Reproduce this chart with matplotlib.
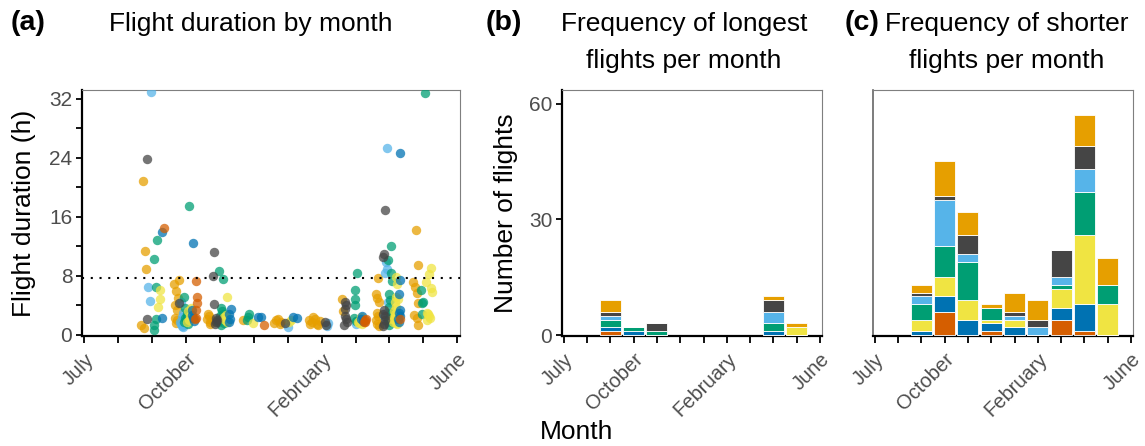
import matplotlib
matplotlib.use("Agg")
import matplotlib.pyplot as plt
import numpy as np

plt.rcParams['font.family'] = ['Liberation Sans', 'DejaVu Sans']

# ---------------- data ----------------
months = list(range(1, 13))            # 1 = July ... 12 = June
month_labels = {1: "July", 4: "October", 8: "February", 12: "June"}
birds = ["vermillion", "blue", "yellow", "green", "skyblue", "gray", "orange"]
bird_colors = ["#D55E00", "#0072B2", "#F0E442", "#009E73", "#56B4E9", "#454545", "#E69F00"]
threshold_h = 7.7

# panel (a): flight position (month + jitter) and duration (h), per bird
a_x_vermillion = [3.34, 4.30, 4.32, 4.33, 4.28, 4.30, 4.26, 6.29, 9.29, 9.25, 9.32, 9.27, 10.30]
a_y_vermillion = [14.5, 7.3, 5.2, 4.3, 3.4, 2.3, 2.1, 1.4, 2.0, 1.8, 2.1, 1.7, 2.1]
a_x_blue = [3.29, 3.30, 4.19, 4.18, 4.20, 4.17, 4.22, 5.32, 5.28, 5.30, 5.27, 6.11, 6.21,
            7.15, 7.27, 9.19, 9.15, 9.21, 10.30, 10.32, 10.28, 10.30, 10.27, 10.31, 10.26, 10.29]
a_y_blue = [13.9, 2.3, 12.4, 2.7, 2.3, 3.4, 1.9, 3.5, 2.9, 2.2, 1.7, 2.4, 2.4,
            2.4, 2.3, 2.5, 2.1, 1.9, 24.6, 7.5, 5.6, 3.4, 3.0, 2.6, 2.2, 1.8]
a_x_yellow = [3.24, 3.22, 3.16, 4.05, 4.10, 4.12, 4.02, 4.15, 5.21, 5.16, 5.12, 5.20, 5.18,
              5.97, 7.10, 7.05, 9.13, 9.10, 9.17, 9.08, 9.20,
              10.20, 10.22, 10.18, 10.24, 10.15, 10.20, 10.12, 10.22, 10.17, 10.19, 10.14,
              10.25, 10.10, 10.20, 10.23, 10.16, 10.08, 10.21,
              11.22, 11.18, 11.22, 11.24, 11.15, 11.18, 11.12, 11.20, 11.10, 11.08]
a_y_yellow = [6.1, 4.9, 3.75, 3.2, 2.0, 2.6, 1.8, 3.6, 5.2, 2.0, 2.4, 1.7, 2.7,
              1.6, 2.0, 1.7, 2.0, 1.6, 2.4, 1.8, 1.5,
              7.9, 6.9, 5.2, 4.8, 4.4, 3.8, 3.3, 3.0, 2.8, 2.5, 2.2,
              2.0, 1.8, 1.6, 1.5, 2.4, 2.1, 1.9,
              9.1, 8.3, 6.3, 5.8, 2.9, 2.5, 2.0, 2.3, 3.0, 7.2]
a_x_green = [3.14, 3.06, 3.11, 3.10, 3.05, 3.04,
             4.08, 3.95, 4.02, 3.97, 4.00, 3.93, 4.05, 3.98, 4.04,
             4.98, 5.09, 5.03, 5.06, 5.11, 5.00, 4.95, 5.08, 5.02, 5.05, 4.99,
             5.80, 5.87, 5.84,
             9.04, 8.97, 8.99, 8.97, 8.95, 9.00,
             10.03, 9.96, 10.03, 10.06, 10.00, 10.02, 9.98, 10.05, 10.01, 9.97, 10.04, 10.00, 9.99,
             11.06, 10.93, 10.99, 10.96, 10.95]
a_y_green = [12.8, 10.3, 6.5, 2.1, 1.36, 0.7,
             17.5, 5.1, 2.9, 2.3, 2.0, 1.8, 1.5, 3.6, 2.5,
             8.7, 7.6, 3.7, 2.3, 1.6, 2.0, 1.8, 2.8, 1.4, 3.2, 2.5,
             2.0, 2.9, 2.4,
             8.4, 6.1, 4.8, 4.1, 2.3, 1.9,
             12.0, 10.2, 8.4, 7.3, 5.6, 4.7, 3.8, 3.0, 2.5, 2.0, 1.7, 1.4, 2.2,
             32.8, 6.1, 4.4, 4.3, 2.9]
a_x_skyblue = [2.98, 2.89, 2.95,
               3.85, 3.90, 3.88, 3.92, 3.83, 3.95, 3.90, 3.87, 3.93, 3.96, 3.86, 3.91,
               5.15, 5.22, 7.00, 8.20, 8.17, 9.05, 9.00,
               9.93, 9.90, 9.88, 9.92, 9.95, 9.90, 9.98, 9.93, 9.85]
a_y_skyblue = [32.9, 6.5, 4.6,
               4.5, 3.0, 2.4, 2.0, 1.8, 1.6, 1.4, 1.2, 2.2, 1.9, 1.5, 1.1,
               2.5, 1.8, 1.1, 1.6, 1.2, 1.9, 1.5,
               25.3, 9.9, 8.4, 9.0, 4.5, 3.0, 2.2, 1.8, 2.6]
a_x_gray = [2.86, 2.85, 3.79,
            4.81, 4.78, 4.81, 4.87, 4.87, 4.84, 4.90,
            6.93, 8.13, 8.10,
            8.70, 8.72, 8.69, 8.65, 8.74, 8.68, 8.71,
            9.88, 9.83, 9.80, 9.85, 9.82, 9.86, 9.84, 9.80, 9.87]
a_y_gray = [23.9, 2.17, 4.3,
            11.2, 8.0, 4.2, 2.3, 1.8, 1.5, 2.0,
            1.6, 1.4, 1.8,
            4.5, 4.0, 3.5, 1.4, 1.8, 2.6, 2.2,
            16.9, 10.9, 10.5, 3.4, 2.8, 2.0, 1.5, 1.2, 2.5]
a_x_orange = [2.72, 2.78, 2.81, 2.67, 2.75,
              3.78, 3.65, 3.71, 3.75, 3.68, 3.72, 3.66, 3.74, 3.70,
              4.67, 4.72, 4.63, 4.70, 4.65, 4.75, 5.68,
              6.65, 6.72, 6.80, 6.60, 6.76,
              7.62, 7.70, 7.80, 7.85, 7.90, 7.75, 7.66, 7.95,
              8.60, 8.62,
              9.65, 9.60, 9.63, 9.68, 9.62, 9.66, 9.60, 9.64, 9.70,
              10.78, 10.84, 10.70, 10.75, 10.80, 10.83, 10.72, 10.80, 10.85]
a_y_orange = [20.9, 11.4, 8.95, 1.3, 0.9,
              7.46, 6.9, 6.0, 5.0, 4.1, 3.4, 2.3, 2.0, 1.6,
              2.5, 1.8, 2.2, 1.5, 2.8, 2.0, 2.0,
              2.0, 2.1, 1.8, 1.6, 1.5,
              2.0, 1.7, 2.2, 1.5, 1.3, 2.4, 1.5, 1.9,
              4.9, 3.3,
              7.7, 5.5, 5.0, 4.4, 3.0, 2.5, 2.0, 1.5, 1.2,
              14.2, 9.5, 7.2, 6.5, 5.7, 4.3, 2.7, 2.3, 1.4]

# panel (b): counts of longest flights per month and bird (stack order = birds)
b_months = [3, 4, 5, 10, 11]
b_vermillion = [1, 0, 0, 0, 0]
b_blue = [1, 1, 0, 1, 0]
b_yellow = [0, 0, 0, 0, 2]
b_green = [2, 1, 1, 2, 0]
b_skyblue = [1, 0, 0, 3, 0]
b_gray = [1, 0, 2, 3, 0]
b_orange = [3, 0, 0, 1, 1]

# panel (c): counts of shorter flights per month and bird
c_months = [3, 4, 5, 6, 7, 8, 9, 10, 11]
c_vermillion = [0, 6, 0, 1, 0, 0, 4, 1, 0]
c_blue = [1, 4, 4, 2, 2, 0, 3, 7, 0]
c_yellow = [3, 5, 5, 1, 2, 0, 5, 18, 8]
c_green = [4, 8, 10, 3, 0, 0, 1, 11, 5]
c_skyblue = [2, 12, 2, 0, 1, 2, 2, 6, 0]
c_gray = [1, 1, 5, 0, 1, 2, 7, 6, 0]
c_orange = [2, 9, 6, 1, 5, 5, 0, 8, 7]

# ---------------- figure ----------------
W, H = 1145, 446
fig = plt.figure(figsize=(W / 100, H / 100), dpi=100)

def ax_rect(x0, x1, y0, y1):
    return [x0 / W, 1 - y1 / H, (x1 - x0) / W, (y1 - y0) / H]

ax_a = fig.add_axes(ax_rect(82, 460, 90, 336))
ax_b = fig.add_axes(ax_rect(562, 822, 90, 336))
ax_c = fig.add_axes(ax_rect(873, 1133, 90, 336))

tick_color = "#4D4D4D"
ytick_fs = 15
xtick_fs = 14.5

def style_axes(ax, yticks=True):
    for side in ["top", "right"]:
        ax.spines[side].set_color("#7F7F7F")
        ax.spines[side].set_linewidth(0.8)
    ax.spines["bottom"].set_color("black")
    ax.spines["bottom"].set_linewidth(1.6)
    if yticks:
        ax.spines["left"].set_color("black")
        ax.spines["left"].set_linewidth(1.6)
    else:
        ax.spines["left"].set_color("#666666")
        ax.spines["left"].set_linewidth(1.2)
    ax.set_xlim(0.93, 12.08)
    ax.set_xticks(months)
    ax.set_xticklabels([month_labels.get(m, "") for m in months], rotation=45,
                       ha="right", va="top", rotation_mode="anchor",
                       color=tick_color, fontsize=xtick_fs)
    ax.tick_params(axis="x", length=5, width=1.3, color="black", pad=5)
    ax.tick_params(axis="y", length=4, width=1.3, color="black", labelcolor=tick_color,
                   labelsize=ytick_fs, pad=3)
    if not yticks:
        ax.tick_params(axis="y", left=False, labelleft=False)

# panel (a)
a_x = [a_x_vermillion, a_x_blue, a_x_yellow, a_x_green, a_x_skyblue, a_x_gray, a_x_orange]
a_y = [a_y_vermillion, a_y_blue, a_y_yellow, a_y_green, a_y_skyblue, a_y_gray, a_y_orange]
order = [6, 4, 3, 2, 5, 1, 0]
for i in order:
    ax_a.scatter(a_x[i], a_y[i], s=46, color=bird_colors[i], alpha=0.74, linewidths=0, zorder=3)
ax_a.axhline(threshold_h, color="black", linestyle=(0, (1, 3.2)), linewidth=1.5, zorder=4)
ax_a.set_ylim(-0.15, 33.2)
ax_a.set_yticks([0, 4, 8, 12, 16, 20, 24, 28, 32])
ax_a.set_yticklabels(["0", "", "8", "", "16", "", "24", "", "32"])
style_axes(ax_a)

# panels (b) and (c)
def stacked(ax, xs, series):
    bottom = np.zeros(len(xs))
    for vals, col in zip(series, bird_colors):
        v = np.array(vals, dtype=float)
        ax.bar(xs, v, bottom=bottom, width=0.9, color=col, edgecolor="white",
               linewidth=0.6, zorder=3)
        bottom += v

stacked(ax_b, b_months, [b_vermillion, b_blue, b_yellow, b_green, b_skyblue, b_gray, b_orange])
stacked(ax_c, c_months, [c_vermillion, c_blue, c_yellow, c_green, c_skyblue, c_gray, c_orange])
for ax in (ax_b, ax_c):
    ax.set_ylim(-0.25, 63.5)
    ax.set_yticks([0, 30, 60])
style_axes(ax_b)
style_axes(ax_c, yticks=False)

# texts
title_fs = 19
lab_fs = 19
tag_fs = 20.5
fig.text(11 / W, 1 - 23 / H, "(a)", fontsize=tag_fs, fontweight="bold", ha="left", va="center")
fig.text(486 / W, 1 - 23 / H, "(b)", fontsize=tag_fs, fontweight="bold", ha="left", va="center")
fig.text(845 / W, 1 - 23 / H, "(c)", fontsize=tag_fs, fontweight="bold", ha="left", va="center")
fig.text(251 / W, 1 - 24 / H, "Flight duration by month", fontsize=title_fs, ha="center", va="center")
fig.text(684 / W, 1 - 24 / H, "Frequency of longest", fontsize=title_fs, ha="center", va="center")
fig.text(684 / W, 1 - 61 / H, "flights per month", fontsize=title_fs, ha="center", va="center")
fig.text(1007 / W, 1 - 24 / H, "Frequency of shorter", fontsize=title_fs, ha="center", va="center")
fig.text(1007 / W, 1 - 61 / H, "flights per month", fontsize=title_fs, ha="center", va="center")
fig.text(24 / W, 1 - 213 / H, "Flight duration (h)", fontsize=lab_fs, rotation=90, ha="center", va="center")
fig.text(506 / W, 1 - 213 / H, "Number of flights", fontsize=lab_fs, rotation=90, ha="center", va="center")
fig.text(577 / W, 1 - 432 / H, "Month", fontsize=lab_fs, ha="center", va="center")

fig.savefig("out.png", dpi=100)
